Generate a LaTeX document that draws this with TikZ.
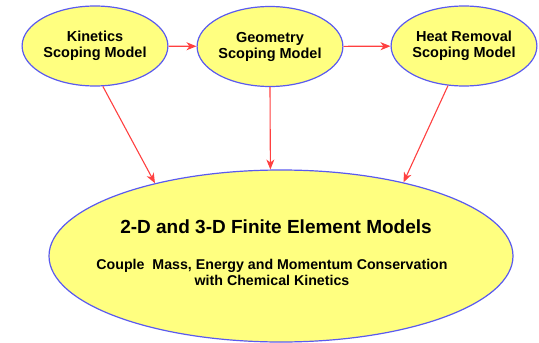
\documentclass[tikz,border=0pt]{standalone}
\usepackage{fontspec}
\setmainfont{Liberation Sans}
\usetikzlibrary{shapes.geometric,arrows.meta}

\definecolor{ovalfill}{HTML}{FFFF80}
\definecolor{ovalline}{HTML}{5A5AF0}
\definecolor{linkred}{HTML}{FF4040}

\begin{document}
\begin{tikzpicture}[
    x=1pt, y=-1pt,
    scoping/.style={ellipse, draw=ovalline, fill=ovalfill, line width=1.2pt,
        minimum width=144pt, minimum height=80pt, inner sep=0pt,
        align=center, font=\bfseries\fontsize{14.5}{16}\selectfont},
    link/.style={draw=linkred, line width=1.1pt, -{Stealth[length=10pt,width=8pt,inset=3pt]}},
 ]
    \useasboundingbox (0,0) rectangle (539,343);

    \node[scoping] (kin) at (95,46) {Kinetics\\Scoping Model};
    \node[scoping] (geo) at (270,46.5) {Geometry\\Scoping Model};
    \node[scoping] (heat) at (464,46) {Heat Removal\\Scoping Model};

    \node[scoping, minimum width=464pt, minimum height=172pt] (fem) at (281,256) {};
    \node[font=\bfseries\fontsize{19}{22}\selectfont] (femtitle) at (276,227)
        {2-D and 3-D Finite Element Models};
    \node[font=\bfseries\fontsize{14.2}{16}\selectfont, align=center] (femtext) at (272,272)
        {Couple \ Mass, Energy and Momentum Conservation\\with Chemical Kinetics};

    \draw[link] (kin) -- (geo);
    \draw[link] (geo) -- (heat);

    \draw[link] (kin.-79) -- (fem.150);
    \draw[link] (geo.-90) -- (fem.97);
    \draw[link] (heat.-112) -- (fem.31);
\end{tikzpicture}
\end{document}
